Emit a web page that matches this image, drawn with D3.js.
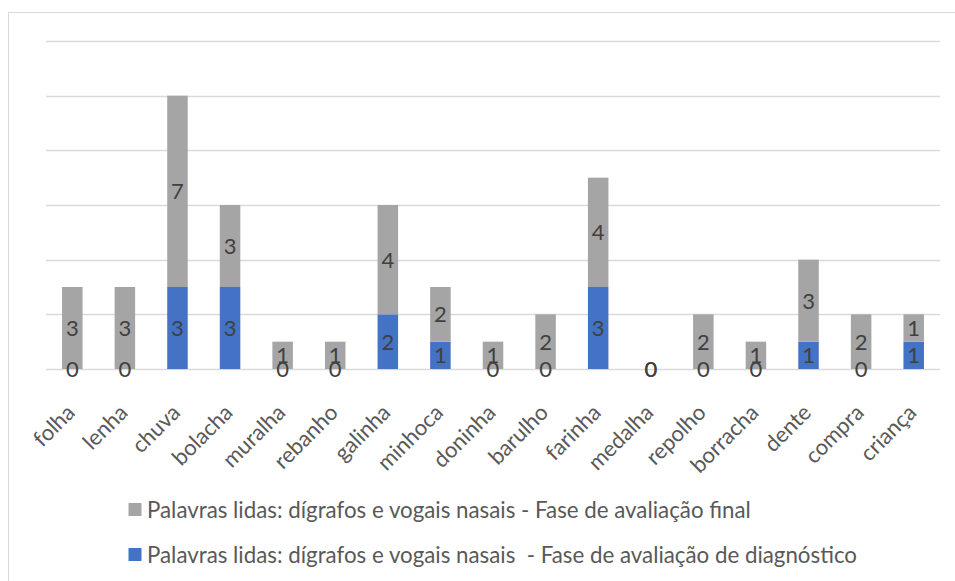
<!DOCTYPE html>
<html><head><meta charset="utf-8">
<script src="https://cdn.jsdelivr.net/npm/d3@7"></script>
<style>body{margin:0;background:#fff}svg{display:block}text{font-family:Lato,"Open Sans",sans-serif}</style>
</head><body><svg id="c" width="955" height="581"></svg>
<script>
const categories = ["folha","lenha","chuva","bolacha","muralha","rebanho","galinha","minhoca","doninha","barulho","farinha","medalha","repolho","borracha","dente","compra","criança"];
const diagnostico = [0,0,3,3,0,0,2,1,0,0,3,0,0,0,1,0,1];
const final = [3,3,7,3,1,1,4,2,1,2,4,0,2,1,3,2,1];
const seriesNames = ["Palavras lidas: dígrafos e vogais nasais - Fase de avaliação final","Palavras lidas: dígrafos e vogais nasais  - Fase de avaliação de diagnóstico"];
const yTicks = [0,2,4,6,8,10,12];

const svg = d3.select("#c");
svg.append("rect").attr("x",8.5).attr("y",12.5).attr("width",960).attr("height",600)
  .attr("fill","none").attr("stroke","#D9D9D9").attr("stroke-width",1);

const x = d3.scaleBand().domain(categories).range([46,940]).paddingInner(0.61).paddingOuter(0.305);
const y = d3.scaleLinear().domain([0,12]).range([369,41]);

svg.append("g").selectAll("line").data(yTicks).join("line")
  .attr("x1",46).attr("x2",940).attr("y1",d=>Math.round(y(d))+0.5).attr("y2",d=>Math.round(y(d))+0.5)
  .attr("stroke","#D9D9D9").attr("stroke-width",1.3);

const data = categories.map((c,i)=>({c, d:diagnostico[i], f:final[i]}));
const stack = d3.stack().keys(["d","f"])(data);
const colors = {d:"#4472C4", f:"#A5A5A5"};

stack.forEach(layer=>{
  const g = svg.append("g");
  g.selectAll("rect").data(layer).join("rect")
    .attr("x",p=>x(p.data.c)).attr("width",x.bandwidth())
    .attr("y",p=>y(p[1])).attr("height",p=>y(p[0])-y(p[1]))
    .attr("fill",colors[layer.key]);
});
stack.forEach(layer=>{
  svg.append("g").selectAll("text").data(layer).join("text")
    .attr("x",p=>x(p.data.c)+x.bandwidth()/2)
    .attr("y",p=>(y(p[0])+y(p[1]))/2)
    .attr("dy","0.36em").attr("text-anchor","middle")
    .attr("font-size",22).attr("fill","#404040")
    .text(p=>p.data[layer.key]);
});

svg.append("g").selectAll("text").data(categories).join("text")
  .attr("text-anchor","end")
  .attr("transform",c=>`translate(${x(c)+x.bandwidth()/2+4},${414}) rotate(-45)`)
  .attr("font-size",22).attr("fill","#595959").text(c=>c);

const legY = [509.5,554.5];
const legColors = ["#A5A5A5","#4472C4"];
seriesNames.forEach((n,i)=>{
  svg.append("rect").attr("x",128.5).attr("y",legY[i]-6.5).attr("width",13).attr("height",13).attr("fill",legColors[i]);
  svg.append("text").attr("x",147).attr("y",legY[i]).attr("dy","0.36em")
    .attr("font-size",22.3).attr("fill","#595959").style("white-space","pre").text(n);
});
</script></body></html>
